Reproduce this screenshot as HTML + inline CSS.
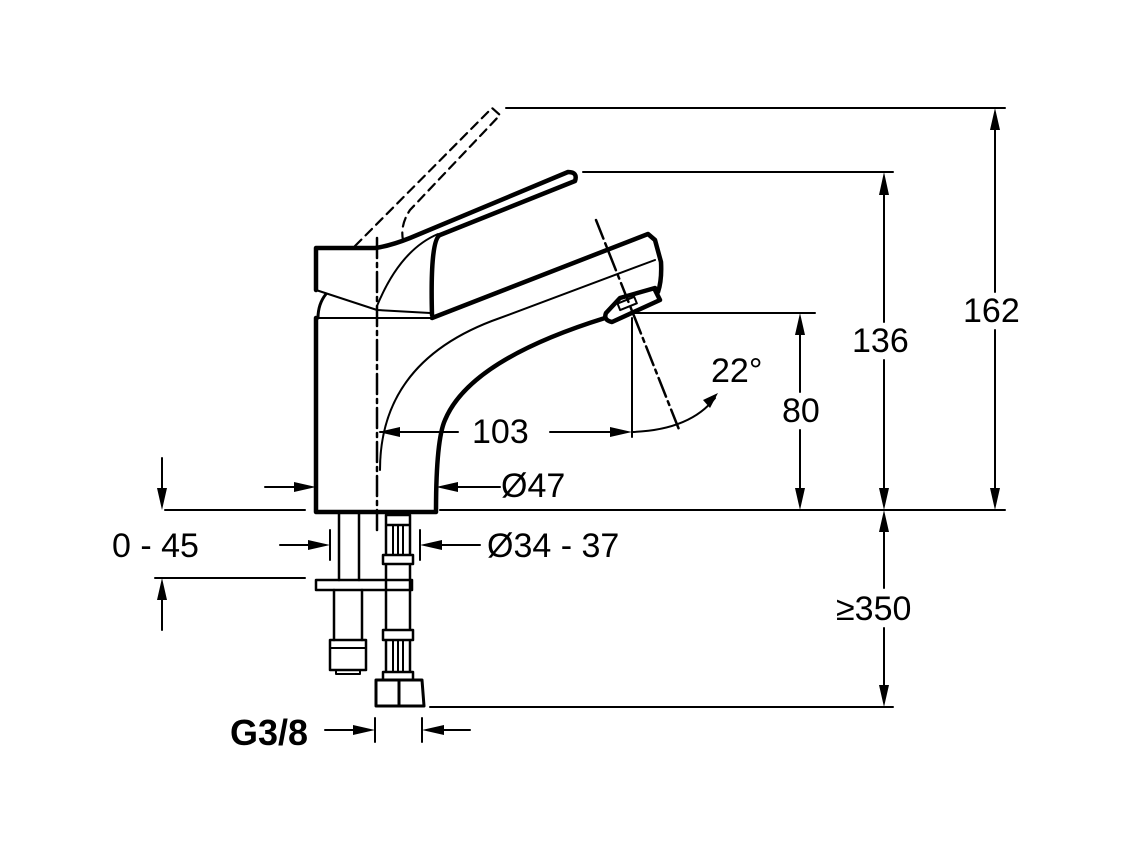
<!DOCTYPE html>
<html><head><meta charset="utf-8"><style>
html,body{margin:0;padding:0;background:#fff}
svg{display:block}
text{font-family:"Liberation Sans",sans-serif;font-size:34px;fill:#000}
</style></head><body>
<svg width="1138" height="853" viewBox="0 0 1138 853" xmlns="http://www.w3.org/2000/svg">
<g fill="none" stroke="#000" stroke-linecap="round" stroke-linejoin="round">
<g stroke-width="2.2" stroke-dasharray="9,6">
<path d="M355,246 L492,108 L500,115 L410,210 Q400,225 403,240"/>
</g>
<path stroke-width="4.5" d="M316,290 L316,248 L375,248 Q390,246 410,238 L568,172 Q578,172 575,181 L440,235 Q430,240 432,315"/>
<path stroke-width="2" d="M316,290 L377,310 L430,313"/>
<path stroke-width="2" d="M377,306 Q400,250 438,234"/>
<path stroke-width="3" d="M326,294 Q318,304 318,318"/>
<path stroke-width="4.5" d="M316,318 L316,512 L436,512 Q436,440 445,420 Q470,360 605,318"/>
<path stroke-width="2" d="M316,318 L430,318"/>
<path stroke-width="4.5" d="M432,318 L648,234 L655,240 L661,262 Q662,280 658,292 L655,290 L660,300 L612,322 Q603,320 606,313 L620,298 L655,288"/>
<path stroke-width="2" d="M380,470 Q380,360 500,318 L655,260"/>
<rect x="618" y="300" width="18" height="7" transform="rotate(-22 627 303)" stroke-width="2"/>
<path stroke-width="2.5" stroke-dasharray="20,5,4,5" d="M377,238 L377,530"/>
<path stroke-width="2.5" stroke-dasharray="20,5,4,5" d="M596,220 L680,432"/>
<path stroke-width="2.5" d="M339,514 L339,580 M359,514 L359,580 M334,590 L334,640 M362,590 L362,640"/>
<rect x="316" y="580" width="96" height="10" stroke-width="2.5"/>
<rect x="330" y="640" width="36" height="30" stroke-width="2.5"/>
<path stroke-width="2" d="M330,648 L366,648 M336,670 L336,674 L360,674 L360,670"/>
<path stroke-width="2.5" d="M386,515 L410,515 L410,525 L386,525 Z M386,525 L386,555 M410,525 L410,555 M383,555 L413,555 L413,564 L383,564 Z M386,564 L386,630 M410,564 L410,630 M383,630 L413,630 L413,640 L383,640 Z M386,640 L386,672 M410,640 L410,672 M383,672 L413,672 L413,680 L383,680 Z"/>
<path stroke-width="2" d="M393,525 L393,555 M398,525 L398,555 M403,525 L403,555 M393,640 L393,672 M398,640 L398,672 M403,640 L403,672"/>
<path stroke-width="3" d="M376,680 L422,680 L424,706 L376,706 Z M399,680 L399,706"/>
<g stroke-width="2">
<path d="M506,108 L1005,108 M583,172 L893,172 M632,313 L815,313 M440,510 L1005,510 M165,510 L305,510 M155,578 L305,578 M430,707 L893,707"/>
<path d="M995,130 L995,292 M995,330 L995,490"/>
<path d="M884,195 L884,322 M884,360 L884,490"/>
<path d="M800,335 L800,392 M800,430 L800,490"/>
<path d="M884,530 L884,588 M884,628 L884,688"/>
<path d="M632,318 L632,437"/>
<path d="M632,432 Q690,430 715,398"/>
<path d="M162,458 L162,490 M162,598 L162,630"/>
<path d="M265,487 L296,487 M500,487 L456,487"/>
<path d="M280,545 L310,545 M480,545 L440,545 M330,530 L330,560 M420,530 L420,560"/>
<path d="M325,730 L355,730 M470,730 L442,730 M375,718 L375,742 M422,718 L422,742"/>
<path d="M380,432 L458,432 M550,432 L612,432"/>
</g>
<g fill="#000" stroke="none">
<path d="M995,108 L990,130 L1000,130 Z M995,510 L990,488 L1000,488 Z"/>
<path d="M884,172 L879,195 L889,195 Z M884,510 L879,488 L889,488 Z"/>
<path d="M800,313 L795,335 L805,335 Z M800,510 L795,488 L805,488 Z"/>
<path d="M884,510 L879,532 L889,532 Z M884,707 L879,685 L889,685 Z"/>
<path d="M162,510 L157,488 L167,488 Z M162,578 L157,600 L167,600 Z"/>
<path d="M316,487 L294,482 L294,492 Z M436,487 L458,482 L458,492 Z"/>
<path d="M330,545 L308,540 L308,550 Z M420,545 L442,540 L442,550 Z"/>
<path d="M375,730 L353,725 L353,735 Z M422,730 L444,725 L444,735 Z"/>
<path d="M378,432 L400,427 L400,437 Z M632,432 L610,427 L610,437 Z"/>
<path d="M718,393 L703,400 L710,408 Z"/>
</g>
</g>
<text x="963" y="322">162</text>
<text x="852" y="352">136</text>
<text x="782" y="422">80</text>
<text x="836" y="620">≥350</text>
<text x="472" y="443">103</text>
<text x="711" y="382">22°</text>
<text x="501" y="497">Ø47</text>
<text x="112" y="557">0 - 45</text>
<text x="487" y="557">Ø34 - 37</text>
<text x="230" y="745" style="font-size:36px;font-weight:bold">G3/8</text>
</svg>
</body></html>
